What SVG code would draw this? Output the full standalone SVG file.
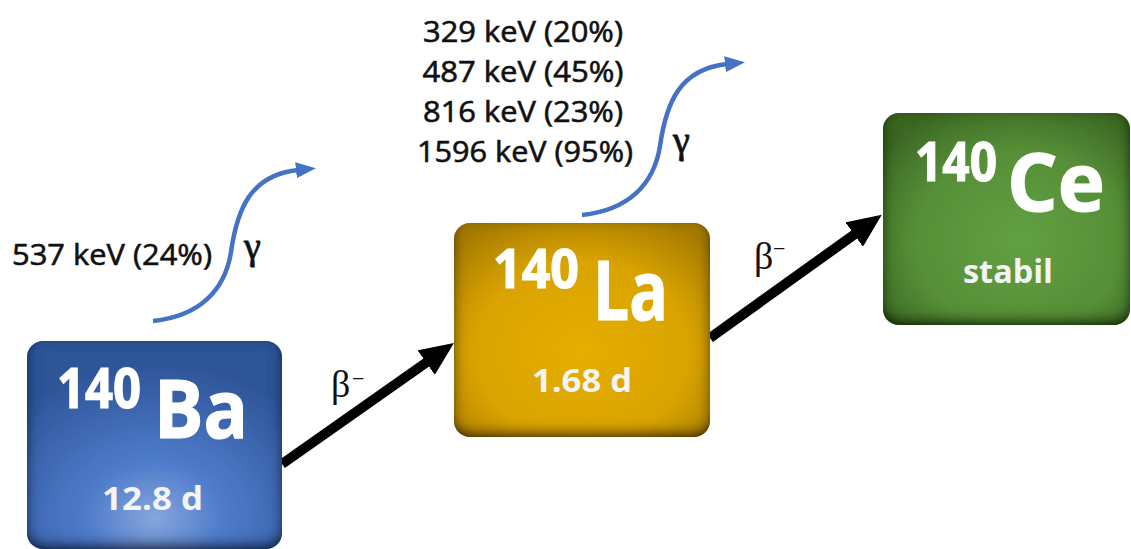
<svg xmlns="http://www.w3.org/2000/svg" width="1131" height="549" viewBox="0 0 1131 549">
  <defs>
    <style>
      .big { font-family: "Open Sans", "Liberation Sans", sans-serif; font-weight: 700; fill: #ffffff; stroke: #ffffff; stroke-width: 1.2; }
      .sub { font-family: "Open Sans", "Liberation Sans", sans-serif; font-weight: 700; fill: #f4f4f4; font-size: 32px; }
      .lbl { font-family: "Open Sans", "Liberation Sans", sans-serif; font-weight: 400; fill: #111111; stroke: #111111; stroke-width: 0.6; font-size: 29px; }
      .greek { font-family: "Liberation Serif", "DejaVu Serif", serif; fill: #111111; }
      .gamma { fill: none; stroke: #4472C4; stroke-width: 4.5; stroke-linecap: butt; marker-end: url(#gHead); }
      .beta { fill: none; stroke: #000000; stroke-width: 10; marker-end: url(#bHead); }
    </style>
    <marker id="gHead" viewBox="0 0 20 16" refX="2" refY="8" markerWidth="20" markerHeight="16" markerUnits="userSpaceOnUse" orient="auto">
      <path d="M0,0 L20,8 L0,16 z" fill="#4472C4"/>
    </marker>
    <marker id="bHead" viewBox="0 0 34 30" refX="1" refY="15" markerWidth="34" markerHeight="30" markerUnits="userSpaceOnUse" orient="auto">
      <path d="M0,0 L34,15 L0,30 z" fill="#000000"/>
    </marker>
    <filter id="inset" x="-10%" y="-10%" width="120%" height="120%">
      <feFlood flood-color="#000000" flood-opacity="1"/>
      <feComposite in2="SourceAlpha" operator="out" result="inv"/>
      <feOffset in="inv" dy="-5" result="off"/>
      <feGaussianBlur in="off" stdDeviation="6.5" result="blur"/>
      <feComposite in="blur" in2="SourceAlpha" operator="in" result="sh"/>
      <feMerge><feMergeNode in="SourceGraphic"/><feMergeNode in="sh"/></feMerge>
    </filter>
    <radialGradient id="baFill" cx="50%" cy="85%" r="75%">
      <stop offset="0" stop-color="#86a6dc"/>
      <stop offset="0.35" stop-color="#4f7ccb"/>
      <stop offset="1" stop-color="#2e5498"/>
    </radialGradient>
    <radialGradient id="laFill" cx="50%" cy="60%" r="70%">
      <stop offset="0" stop-color="#e6ae00"/>
      <stop offset="0.6" stop-color="#d9a300"/>
      <stop offset="1" stop-color="#a57b00"/>
    </radialGradient>
    <radialGradient id="ceFill" cx="55%" cy="60%" r="70%">
      <stop offset="0" stop-color="#62a042"/>
      <stop offset="0.6" stop-color="#568f37"/>
      <stop offset="1" stop-color="#3a6624"/>
    </radialGradient>
  </defs>

  <rect x="0" y="0" width="1131" height="549" fill="#ffffff"/>

  <g id="connectors">
    <path class="beta" d="M282,464 L427,362"/>
    <path class="beta" d="M710,338 L855,234"/>
    <path class="gamma" d="M153,321 C200,316 225,290 231,252 C237,210 250,175 298,170"/>
    <path class="gamma" transform="translate(429,-106)" d="M153,321 C200,316 225,290 231,252 C237,210 250,175 298,170"/>
  </g>

  <g id="labels">
    <text class="lbl" x="12" y="265" textLength="200" lengthAdjust="spacingAndGlyphs">537 keV (24%)</text>
    <text class="greek" x="244" y="259" font-size="38" stroke="#111" stroke-width="0.8">γ</text>
    <text class="lbl" x="523" y="42" text-anchor="middle" textLength="200" lengthAdjust="spacingAndGlyphs">329 keV (20%)</text>
    <text class="lbl" x="523" y="82" text-anchor="middle" textLength="201" lengthAdjust="spacingAndGlyphs">487 keV (45%)</text>
    <text class="lbl" x="523" y="122" text-anchor="middle" textLength="200" lengthAdjust="spacingAndGlyphs">816 keV (23%)</text>
    <text class="lbl" x="525" y="162" text-anchor="middle" textLength="216" lengthAdjust="spacingAndGlyphs">1596 keV (95%)</text>
    <text class="greek" x="673" y="153" font-size="38" stroke="#111" stroke-width="0.8">γ</text>
    <text class="greek" x="331" y="397" font-size="38">β<tspan x="352" y="386" font-size="22">−</tspan></text>
    <text class="greek" x="754" y="269" font-size="38">β<tspan x="773" y="256" font-size="22">−</tspan></text>
  </g>

  <g id="node-ba">
    <rect x="27" y="341" width="255" height="208" rx="16" fill="url(#baFill)" filter="url(#inset)"/>
    <text class="big"><tspan x="57" y="408" font-size="55" textLength="84" lengthAdjust="spacingAndGlyphs">140</tspan><tspan x="154" y="438" font-size="80" textLength="94" lengthAdjust="spacingAndGlyphs">Ba</tspan></text>
    <text class="sub" x="102" y="510" textLength="101" lengthAdjust="spacingAndGlyphs">12.8 d</text>
  </g>

  <g id="node-la">
    <rect x="454" y="223" width="256" height="214" rx="16" fill="url(#laFill)" filter="url(#inset)"/>
    <text class="big"><tspan x="493" y="288" font-size="53" textLength="86" lengthAdjust="spacingAndGlyphs">140</tspan><tspan x="593" y="320" font-size="83" textLength="75" lengthAdjust="spacingAndGlyphs">La</tspan></text>
    <text class="sub" x="532" y="392" textLength="100" lengthAdjust="spacingAndGlyphs">1.68 d</text>
  </g>

  <g id="node-ce">
    <rect x="883" y="113" width="247" height="212" rx="16" fill="url(#ceFill)" filter="url(#inset)"/>
    <text class="big"><tspan x="915" y="181" font-size="54" textLength="82" lengthAdjust="spacingAndGlyphs">140</tspan><tspan x="1007" y="211" font-size="80" textLength="98" lengthAdjust="spacingAndGlyphs">Ce</tspan></text>
    <text class="sub" x="963" y="283" textLength="90" lengthAdjust="spacingAndGlyphs">stabil</text>
  </g>
</svg>
